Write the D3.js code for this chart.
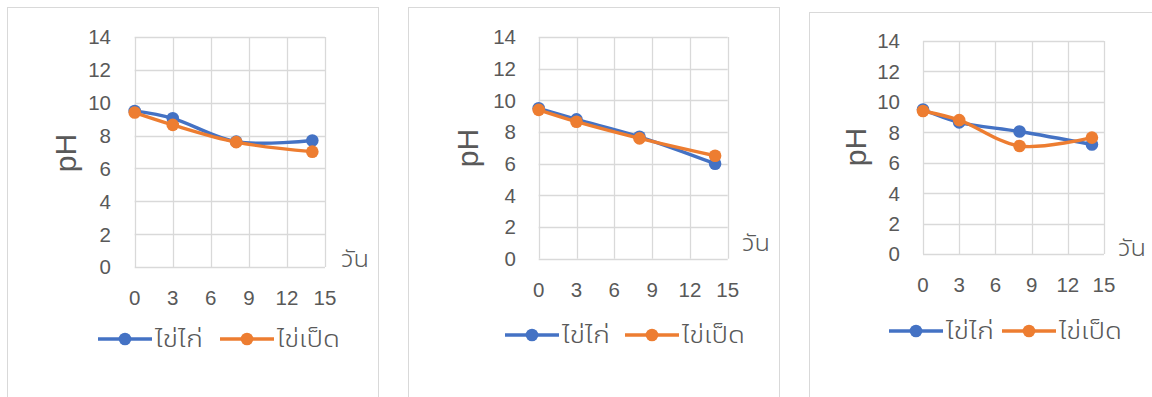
<!DOCTYPE html>
<html>
<head>
<meta charset="utf-8">
<script src="https://cdn.jsdelivr.net/npm/d3@7"></script>
<style>
  body { margin: 0; background: #fff; }
  svg { display: block; font-family: "Liberation Sans", "Noto Sans", sans-serif; }
  .tick-label { fill: #595959; font-size: 20.5px; }
  .axis-title { fill: #595959; font-size: 30px; }
  .thai { font-family: "Noto Sans Thai UI", "Noto Sans Thai", "Loma", "Garuda", "Waree", sans-serif; font-weight: 300; }
  .unit-label { fill: #595959; font-size: 25px; }
  .legend-label { fill: #595959; font-size: 25px; }
</style>
</head>
<body>
<div id="charts"></div>
<script>
// Data
const days = [0, 3, 8, 14];
const xTicks = [0, 3, 6, 9, 12, 15];
const yTicks = [0, 2, 4, 6, 8, 10, 12, 14];
const seriesNames = ["ไข่ไก่", "ไข่เป็ด"];
const seriesColors = ["#4472C4", "#ED7D31"];

const chickenA = [9.5, 9.05, 7.63, 7.7];
const duckA = [9.4, 8.65, 7.6, 7.02];
const chickenB = [9.5, 8.8, 7.7, 6.0];
const duckB = [9.4, 8.65, 7.6, 6.5];
const chickenC = [9.5, 8.65, 8.05, 7.2];
const duckC = [9.4, 8.8, 7.1, 7.65];

// Layout of each panel (pixel positions)
const panels = [
    { box: [7, 7, 371], plot: [134.7, 325, 37, 267], yLabX: 111, xLabY: 298,
      unit: [341, 267], title: [65, 153], legY: 339, legX: [98, 220],
      series: [chickenA, duckA] },
    { box: [408, 7, 371], plot: [538.7, 727.7, 37, 258.7], yLabX: 516, xLabY: 290,
      unit: [742, 251], title: [467, 148], legY: 335, legX: [505, 625],
      series: [chickenB, duckB] },
    { box: [809, 12, 360], plot: [923, 1104, 41, 254], yLabX: 900, xLabY: 285,
      unit: [1118, 256], title: [855, 147], legY: 331, legX: [889, 1002],
      series: [chickenC, duckC] }
];
// widths of the Thai labels as seen in the picture
const legendWidths = [48, 63];
const unitWidth = 28;

const svg = d3.select("#charts")
    .append("svg")
    .attr("width", 1152)
    .attr("height", 397);

panels.forEach(p => {
    const g = svg.append("g");

    // Chart area border
    g.append("rect")
        .attr("x", p.box[0] + 0.5)
        .attr("y", p.box[1] + 0.5)
        .attr("width", p.box[2])
        .attr("height", 420)
        .attr("fill", "#fff")
        .attr("stroke", "#d9d9d9");

    const x = d3.scaleLinear().domain([0, 15]).range([p.plot[0], p.plot[1]]);
    const y = d3.scaleLinear().domain([0, 14]).range([p.plot[3], p.plot[2]]);

    // Gridlines
    g.selectAll(".hgrid")
        .data(yTicks)
        .join("line")
        .attr("x1", x(0)).attr("x2", x(15))
        .attr("y1", d => Math.round(y(d)) + 0.5)
        .attr("y2", d => Math.round(y(d)) + 0.5)
        .attr("stroke", "#d9d9d9")
        .attr("stroke-width", 1.3);

    g.selectAll(".vgrid")
        .data(xTicks)
        .join("line")
        .attr("x1", d => Math.round(x(d)) + 0.5)
        .attr("x2", d => Math.round(x(d)) + 0.5)
        .attr("y1", y(0)).attr("y2", y(14))
        .attr("stroke", "#d9d9d9")
        .attr("stroke-width", 1.3);

    // Tick labels
    g.selectAll(".ylab")
        .data(yTicks)
        .join("text")
        .attr("class", "tick-label")
        .attr("x", p.yLabX)
        .attr("y", d => y(d))
        .attr("dy", "0.36em")
        .attr("text-anchor", "end")
        .text(d => d);

    g.selectAll(".xlab")
        .data(xTicks)
        .join("text")
        .attr("class", "tick-label")
        .attr("x", d => x(d))
        .attr("y", p.xLabY)
        .attr("dy", "0.36em")
        .attr("text-anchor", "middle")
        .text(d => d);

    // Axis titles
    g.append("text")
        .attr("class", "axis-title")
        .attr("transform", `translate(${p.title[0]}, ${p.title[1]}) rotate(-90)`)
        .attr("text-anchor", "middle")
        .attr("dy", "0.36em")
        .text("pH");

    g.append("text")
        .attr("class", "unit-label thai")
        .attr("x", p.unit[0])
        .attr("y", p.unit[1])
        .attr("textLength", unitWidth)
        .attr("lengthAdjust", "spacingAndGlyphs")
        .text("วัน");

    // Lines and markers
    const line = d3.line()
        .x((d, i) => x(days[i]))
        .y(d => y(d))
        .curve(d3.curveCatmullRom.alpha(0.5));

    p.series.forEach((vals, s) => {
        g.append("path")
            .attr("d", line(vals))
            .attr("fill", "none")
            .attr("stroke", seriesColors[s])
            .attr("stroke-width", 3.4)
            .attr("stroke-linejoin", "round");

        g.selectAll(".m" + s)
            .data(vals)
            .join("circle")
            .attr("cx", (d, i) => x(days[i]))
            .attr("cy", d => y(d))
            .attr("r", 6.3)
            .attr("fill", seriesColors[s]);
    });

    // Legend
    seriesNames.forEach((name, s) => {
        const lx = p.legX[s];
        g.append("line")
            .attr("x1", lx).attr("x2", lx + 54)
            .attr("y1", p.legY).attr("y2", p.legY)
            .attr("stroke", seriesColors[s])
            .attr("stroke-width", 3.4);
        g.append("circle")
            .attr("cx", lx + 27).attr("cy", p.legY)
            .attr("r", 6.3)
            .attr("fill", seriesColors[s]);
        g.append("text")
            .attr("class", "legend-label thai")
            .attr("x", lx + 57)
            .attr("y", p.legY + 8)
            .attr("textLength", legendWidths[s])
            .attr("lengthAdjust", "spacingAndGlyphs")
            .text(name);
    });
});
</script>
</body>
</html>
